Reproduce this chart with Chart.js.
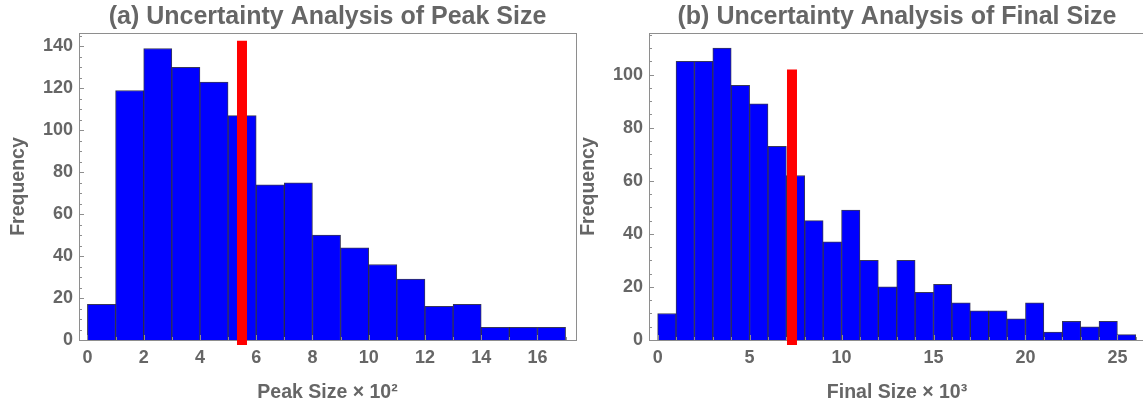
<!DOCTYPE html>
<html>
<head>
<meta charset="utf-8">
<script src="https://cdn.jsdelivr.net/npm/chart.js@4/dist/chart.umd.min.js"></script>
<style>
  html, body { margin: 0; padding: 0; background: #fff; overflow: hidden; width: 1143px; height: 407px; }
  canvas { position: absolute; top: 0; }
  #peakChart { left: 0; }
  #finalChart { left: 570px; }
</style>
</head>
<body>
<canvas id="peakChart" width="600" height="407"></canvas>
<canvas id="finalChart" width="590" height="407"></canvas>
<script>
// (a) peak size histogram, bins of width 1 (x 10^2)
var peakBins   = [0, 1, 2, 3, 4, 5, 6, 7, 8, 9, 10, 11, 12, 13, 14, 15, 16];
var peakCounts = [17, 119, 139, 130, 123, 107, 74, 75, 50, 44, 36, 29, 16, 17, 6, 6, 6];
var peakMarker = { x: 5.495, low: -2.4, high: 142.7 };
var peakXTicks = [0, 2, 4, 6, 8, 10, 12, 14, 16];
var peakYTicks = [0, 20, 40, 60, 80, 100, 120, 140];

// (b) final size histogram, bins of width 1 (x 10^3)
var finalBins   = [0, 1, 2, 3, 4, 5, 6, 7, 8, 9, 10, 11, 12, 13, 14, 15, 16, 17, 18, 19, 20, 21, 22, 23, 24, 25];
var finalCounts = [10, 105, 105, 110, 96, 89, 73, 62, 45, 37, 49, 30, 20, 30, 18, 21, 14, 11, 11, 8, 14, 3, 7, 5, 7, 2];
var finalMarker = { x: 7.305, low: -1.9, high: 101.9 };
var finalXTicks = [0, 5, 10, 15, 20, 25];
var finalYTicks = [0, 20, 40, 60, 80, 100];

var textColor = '#666666';
var axisColor = '#8e8e8e';
var fontFamily = '"Liberation Sans", Arial, sans-serif';

// frame lines + inward ticks, like the original plot
var framePlugin = {
    id: 'frame',
    afterDatasetsDraw(chart, args, opts) {
        var ctx = chart.ctx;
        var a = chart.chartArea;
        var xs = chart.scales.x, ys = chart.scales.y;
        ctx.save();
        ctx.strokeStyle = axisColor;
        ctx.lineWidth = 1;
        ctx.beginPath();
        ctx.moveTo(a.left, a.top + 0.5);
        ctx.lineTo(a.right + 1, a.top + 0.5);
        if (opts.right) {
            ctx.moveTo(a.right + 0.5, a.top);
            ctx.lineTo(a.right + 0.5, a.bottom);
        }
        // y ticks
        for (var v = 0; v <= ys.max; v += 5) {
            var py = Math.round(ys.getPixelForValue(v)) + 0.5;
            var len = (v % 20 === 0) ? 5 : 3;
            ctx.moveTo(a.left, py);
            ctx.lineTo(a.left + len, py);
        }
        // x ticks
        for (var u = 0; u <= xs.max; u += 1) {
            var px = Math.round(xs.getPixelForValue(u)) + 0.5;
            var l2 = (u % opts.xMajor === 0) ? 5 : 3;
            ctx.moveTo(px, a.bottom);
            ctx.lineTo(px, a.bottom - l2);
        }
        ctx.stroke();
        ctx.restore();
    }
};

function makeChart(id, cfg) {
    var ctx = document.getElementById(id);
    return new Chart(ctx, {
        type: 'bar',
        data: {
            datasets: [
                {
                    type: 'line',
                    data: [{ x: cfg.marker.x, y: cfg.marker.low }, { x: cfg.marker.x, y: cfg.marker.high }],
                    borderColor: '#ff0000',
                    borderWidth: 10,
                    borderCapStyle: 'butt',
                    pointRadius: 0,
                    clip: false,
                    order: 0
                },
                {
                    type: 'bar',
                    data: cfg.bins.map(function (b, i) { return { x: b + 0.5, y: cfg.counts[i] }; }),
                    backgroundColor: '#0000ff',
                    borderColor: 'rgba(20,20,60,0.85)',
                    borderWidth: 1,
                    borderSkipped: 'bottom',
                    categoryPercentage: 1,
                    barPercentage: 1,
                    order: 1
                }
            ]
        },
        options: {
            responsive: false,
            animation: false,
            layout: { padding: { left: 0, right: cfg.padRight, top: 0, bottom: 0 } },
            plugins: {
                legend: { display: false },
                tooltip: { enabled: false },
                title: {
                    display: true,
                    fullSize: false,
                    text: cfg.title,
                    color: textColor,
                    font: { family: fontFamily, size: 25, weight: 'bold' },
                    padding: { top: 2, bottom: 1 }
                },
                frame: { right: cfg.frameRight, xMajor: cfg.xMajor }
            },
            scales: {
                x: {
                    type: 'linear',
                    min: cfg.xMin,
                    max: cfg.xMax,
                    offset: false,
                    afterBuildTicks: function (s) { s.ticks = cfg.xTicks.map(function (v) { return { value: v }; }); },
                    afterFit: function (s) { s.height = 67; },
                    grid: { display: false, drawTicks: false },
                    border: { display: true, color: axisColor, width: 1 },
                    ticks: { color: textColor, padding: 7, maxRotation: 0, font: { family: fontFamily, size: 18, weight: 'bold' } },
                    title: {
                        display: true,
                        text: cfg.xTitle,
                        color: textColor,
                        font: { family: fontFamily, size: 19.5, weight: 'bold' },
                        padding: { top: 0, bottom: 2.5 }
                    }
                },
                y: {
                    min: 0,
                    max: cfg.yMax,
                    afterBuildTicks: function (s) { s.ticks = cfg.yTicks.map(function (v) { return { value: v }; }); },
                    afterFit: function (s) { s.width = 79; },
                    grid: { display: false, drawTicks: false },
                    border: { display: true, color: axisColor, width: 1 },
                    ticks: { color: textColor, padding: 6, font: { family: fontFamily, size: 18, weight: 'bold' } },
                    title: {
                        display: true,
                        text: 'Frequency',
                        color: textColor,
                        font: { family: fontFamily, size: 19.5, weight: 'bold' },
                        padding: { top: 6.5, bottom: 0 }
                    }
                }
            }
        },
        plugins: [framePlugin]
    });
}

makeChart('peakChart', {
    title: '(a) Uncertainty Analysis of Peak Size',
    xTitle: 'Peak Size \u00d7 10\u00b2',
    bins: peakBins, counts: peakCounts, marker: peakMarker,
    xTicks: peakXTicks, yTicks: peakYTicks,
    xMin: -0.3, xMax: 17.37, yMax: 146.4, xMajor: 2,
    padRight: 24, frameRight: true
});

makeChart('finalChart', {
    title: '(b) Uncertainty Analysis of Final Size',
    xTitle: 'Final Size \u00d7 10\u00b3',
    bins: finalBins, counts: finalCounts, marker: finalMarker,
    xTicks: finalXTicks, yTicks: finalYTicks,
    xMin: -0.47, xMax: 26.5, yMax: 115.7, xMajor: 5,
    padRight: 15, frameRight: false
});
</script>
</body>
</html>
